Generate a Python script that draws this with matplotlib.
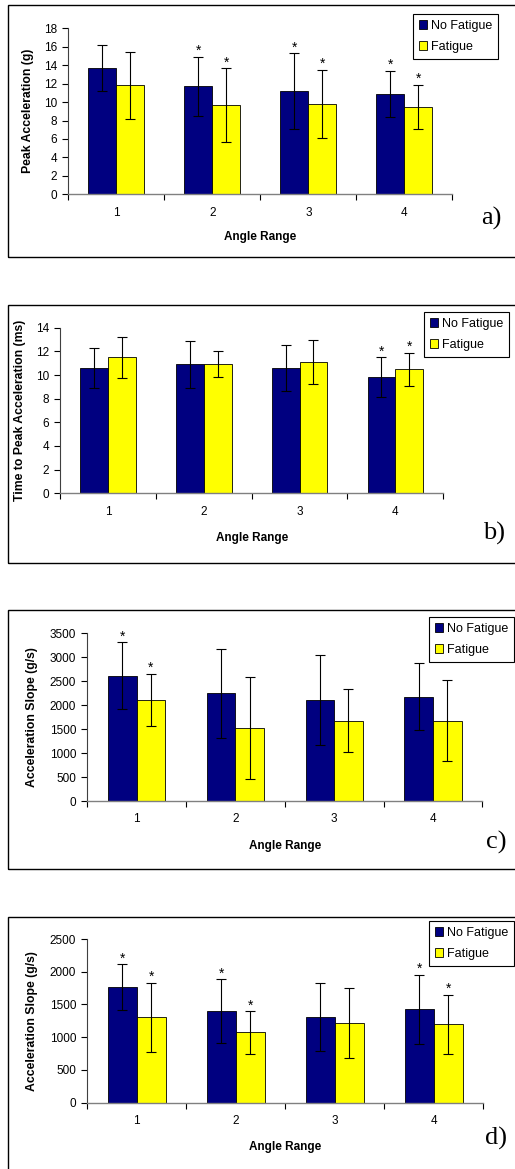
import numpy as np
import matplotlib.pyplot as plt
from matplotlib.patches import Rectangle

plt.rcParams['font.family'] = ['Liberation Sans', 'DejaVu Sans']

categories = ['1', '2', '3', '4']
series_names = ['No Fatigue', 'Fatigue']

# a) peak acceleration
peak_nf = [13.7, 11.7, 11.2, 10.9]
peak_nf_sd = [2.5, 3.2, 4.1, 2.5]
peak_f = [11.8, 9.7, 9.8, 9.5]
peak_f_sd = [3.6, 4.0, 3.7, 2.4]
peak_nf_star = [False, True, True, True]
peak_f_star = [False, True, True, True]

# b) time to peak acceleration
time_nf = [10.6, 10.9, 10.6, 9.8]
time_nf_sd = [1.7, 2.0, 1.95, 1.7]
time_f = [11.5, 10.9, 11.1, 10.5]
time_f_sd = [1.75, 1.1, 1.9, 1.4]
time_nf_star = [False, False, False, True]
time_f_star = [False, False, False, True]

# c) acceleration slope
slope_c_nf = [2610, 2250, 2115, 2180]
slope_c_nf_sd = [700, 930, 940, 700]
slope_c_f = [2110, 1525, 1680, 1680]
slope_c_f_sd = [550, 1065, 650, 850]
slope_c_nf_star = [True, False, False, False]
slope_c_f_star = [True, False, False, False]

# d) acceleration slope
slope_d_nf = [1765, 1395, 1308, 1425]
slope_d_nf_sd = [346, 490, 525, 530]
slope_d_f = [1303, 1074, 1222, 1196]
slope_d_f_sd = [530, 326, 535, 455]
slope_d_nf_star = [True, True, False, True]
slope_d_f_star = [True, True, False, True]

W, H = 515, 1169
fig = plt.figure(figsize=(W / 100, H / 100), dpi=100)


def px_rect(left, top, right, bottom):
    return [left / W, 1 - bottom / H, (right - left) / W, (bottom - top) / H]


def panel(ax_box, frame, ylabel, ymax, ystep, nf, nf_sd, f, f_sd, nf_star, f_star,
          letter, letter_pos, ylabel_x, xlabel_y, legend_box):
    # outer frame (right edge runs off the page like the original)
    fl, ft, fb = frame
    fig.patches.append(Rectangle((fl / W, 1 - fb / H), 1.2, (fb - ft) / H,
                                 transform=fig.transFigure, fill=False,
                                 edgecolor='black', linewidth=1.0))
    ax = fig.add_axes(px_rect(*ax_box))
    x = np.arange(1, 5)
    w = 0.29
    ek = dict(ecolor='black', elinewidth=0.8, capsize=3.5, capthick=0.8)
    b1 = ax.bar(x - w / 2, nf, w, color='#000080', edgecolor='black', linewidth=0.6,
                yerr=nf_sd, error_kw=ek, label=series_names[0])
    b2 = ax.bar(x + w / 2, f, w, color='#FFFF00', edgecolor='black', linewidth=0.6,
                yerr=f_sd, error_kw=ek, label=series_names[1])
    for xi, m, s, st in zip(x - w / 2, nf, nf_sd, nf_star):
        if st:
            ax.annotate('*', (xi, m + s), xytext=(0, -1), textcoords='offset points',
                        ha='center', va='bottom', fontsize=10)
    for xi, m, s, st in zip(x + w / 2, f, f_sd, f_star):
        if st:
            ax.annotate('*', (xi, m + s), xytext=(0, -1), textcoords='offset points',
                        ha='center', va='bottom', fontsize=10)
    ax.set_xlim(0.5, 4.5)
    ax.set_ylim(0, ymax)
    ax.set_yticks(np.arange(0, ymax + ystep / 2, ystep))
    ax.set_xticks(np.arange(0.5, 4.6, 1))
    ax.set_xticklabels([])
    ax.set_xticks(x, minor=True)
    ax.set_xticklabels(categories, minor=True)
    ax.tick_params(axis='x', which='minor', length=0, pad=9, labelsize=8.5)
    ax.tick_params(axis='x', which='major', length=4, width=0.8, direction='out', color='black')
    ax.tick_params(axis='y', length=4, width=0.8, direction='out', labelsize=8.5, pad=4)
    for s in ['top', 'right']:
        ax.spines[s].set_visible(False)
    ax.spines['left'].set_color('#404040')
    ax.spines['bottom'].set_color('#808080')
    ax.spines['left'].set_linewidth(0.8)
    ax.spines['bottom'].set_linewidth(1.0)
    l, t, r, btm = ax_box
    fig.text(ylabel_x / W, 1 - ((t + btm) / 2) / H, ylabel, rotation=90,
             ha='center', va='center', fontsize=8.8, fontweight='bold')
    fig.text(((l + r) / 2) / W, 1 - xlabel_y / H, 'Angle Range',
             ha='center', va='center', fontsize=8.5, fontweight='bold')
    fig.text(letter_pos[0] / W, 1 - letter_pos[1] / H, letter,
             ha='center', va='center', fontsize=19, family='Liberation Serif')
    ll, lt, lr, lb = legend_box
    leg = fig.legend(handles=[b1, b2], labels=series_names,
                     loc='upper left', bbox_to_anchor=(ll / W, 1 - lt / H),
                     bbox_transform=fig.transFigure, fontsize=9, frameon=True,
                     fancybox=False, edgecolor='black', framealpha=1,
                     handlelength=0.7, handleheight=0.7, handletextpad=0.3,
                     borderpad=0.45, labelspacing=0.75, borderaxespad=0)
    leg.get_frame().set_linewidth(0.8)
    return ax


panel((68.3, 28.3, 452.3, 194.3), (8, 5, 257), 'Peak Acceleration (g)', 18, 2,
      peak_nf, peak_nf_sd, peak_f, peak_f_sd, peak_nf_star, peak_f_star,
      'a)', (491, 218), 28, 237, (413, 14, 511, 57))

panel((60, 327.7, 443.3, 493.3), (8, 305, 563), 'Time to Peak Acceleration (ms)', 14, 2,
      time_nf, time_nf_sd, time_f, time_f_sd, time_nf_star, time_f_star,
      'b)', (494, 533), 20, 538, (424, 312, 511, 356))

panel((87.3, 633.3, 482.3, 801), (8, 610, 869), 'Acceleration Slope (g/s)', 3500, 500,
      slope_c_nf, slope_c_nf_sd, slope_c_f, slope_c_f_sd, slope_c_nf_star, slope_c_f_star,
      'c)', (496, 842), 32, 846, (429, 617, 516, 660))

panel((87.3, 939, 483.3, 1102.7), (8, 917, 1200), 'Acceleration Slope (g/s)', 2500, 500,
      slope_d_nf, slope_d_nf_sd, slope_d_f, slope_d_f_sd, slope_d_nf_star, slope_d_f_star,
      'd)', (496, 1138), 32, 1147, (429, 921, 516, 964))

fig.savefig('out.png', dpi=100)
